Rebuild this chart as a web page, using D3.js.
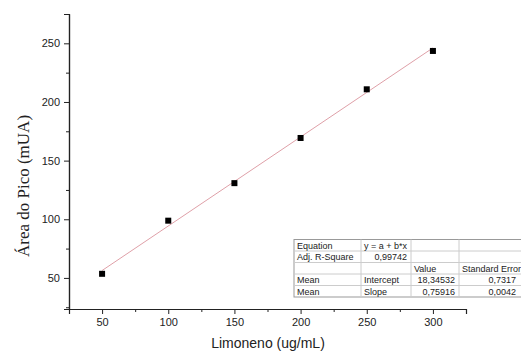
<!DOCTYPE html>
<html><head><meta charset="utf-8">
<script src="https://cdn.jsdelivr.net/npm/d3@7"></script>
<style>body{margin:0;background:#fff}svg{display:block}</style>
</head><body>
<svg id="c" width="521" height="352"></svg>
<script>
const concentrations = [50, 100, 150, 200, 250, 300];
const areas = [53.5, 98.8, 130.8, 169.3, 210.8, 243.5];
const intercept = 18.34532;
const slope = 0.75916;
const xTicks = [50, 100, 150, 200, 250, 300];
const yTicks = [50, 100, 150, 200, 250];
const xMinor = [25, 75, 125, 175, 225, 275, 325];
const yMinor = [25, 75, 125, 175, 225, 275];
const tableRows = [
  ["Equation", "y = a + b*x", "", ""],
  ["Adj. R-Square", "0,99742", "", ""],
  ["", "", "Value", "Standard Error"],
  ["Mean", "Intercept", "18,34532", "0,7317"],
  ["Mean", "Slope", "0,75916", "0,0042"]
];

const svg = d3.select("#c");
const x = d3.scaleLinear().domain([25, 325]).range([69, 466]);
const y = d3.scaleLinear().domain([23.5, 275]).range([309, 14]);

svg.append("g").attr("transform", "translate(0,309)")
  .call(d3.axisBottom(x).tickValues(xTicks).tickSize(5).tickPadding(4).tickFormat(d3.format("d")));
svg.append("g").attr("transform", "translate(0,309)")
  .call(d3.axisBottom(x).tickValues(xMinor).tickSize(3).tickSizeOuter(0).tickFormat(""));
svg.append("g").attr("transform", "translate(69,0)")
  .call(d3.axisLeft(y).tickValues(yTicks).tickSize(5).tickPadding(4).tickFormat(d3.format("d")));
svg.append("g").attr("transform", "translate(69,0)")
  .call(d3.axisLeft(y).tickValues(yMinor).tickSize(3).tickSizeOuter(0).tickFormat(""));
svg.selectAll(".domain").attr("stroke", "#222").attr("stroke-width", 1.2);
svg.selectAll(".tick line").attr("stroke", "#222");
svg.selectAll(".tick text").attr("font-family", "Arial, 'Liberation Sans', sans-serif")
  .attr("font-size", 11).attr("fill", "#222");

// fit line
svg.append("line")
  .attr("x1", x(50)).attr("y1", y(intercept + slope * 50))
  .attr("x2", x(300)).attr("y2", y(intercept + slope * 300))
  .attr("stroke", "#dfa0a8").attr("stroke-width", 1);

// points
svg.selectAll("rect.pt").data(concentrations).enter().append("rect")
  .attr("class", "pt")
  .attr("x", (d) => x(d) - 3).attr("y", (d, i) => y(areas[i]) - 3)
  .attr("width", 6).attr("height", 6).attr("fill", "#000");

// labels
svg.append("text").attr("x", 268).attr("y", 348).attr("text-anchor", "middle")
  .attr("font-family", "Arial, 'Liberation Sans', sans-serif").attr("font-size", 14)
  .attr("fill", "#222").text("Limoneno (ug/mL)");
svg.append("text").attr("transform", "translate(29,186) rotate(-90)").attr("text-anchor", "middle")
  .attr("font-family", "'Times New Roman', 'Liberation Serif', serif").attr("font-size", 17)
  .attr("fill", "#222").text("Área do Pico (mUA)");

// table
const colX = [294, 361, 411, 459, 530];
const rowY = [239.5, 251, 262.5, 274, 285.5, 297];
const tg = svg.append("g");
tg.append("rect").attr("x", colX[0]).attr("y", rowY[0]).attr("width", colX[4] - colX[0])
  .attr("height", rowY[5] - rowY[0]).attr("fill", "#fff").attr("stroke", "#999").attr("stroke-width", 1);
rowY.slice(1, 5).forEach(r => tg.append("line").attr("x1", colX[0]).attr("x2", colX[4])
  .attr("y1", r).attr("y2", r).attr("stroke", "#ccc"));
colX.slice(1, 4).forEach(c => tg.append("line").attr("x1", c).attr("x2", c)
  .attr("y1", rowY[0]).attr("y2", rowY[5]).attr("stroke", "#ccc"));
const align = [
  ["start", "start", "", ""],
  ["start", "end", "", ""],
  ["", "", "start", "start"],
  ["start", "start", "end", "end"],
  ["start", "start", "end", "end"]
];
const rightEdge = [361, 411, 459, 520];
tableRows.forEach((row, ri) => {
  row.forEach((txt, ci) => {
    if (!txt) return;
    const a = align[ri][ci];
    tg.append("text")
      .attr("x", a === "end" ? rightEdge[ci] - 4 : colX[ci] + 3)
      .attr("y", (rowY[ri] + rowY[ri + 1]) / 2 + 3.3)
      .attr("text-anchor", a)
      .attr("font-family", "Arial, 'Liberation Sans', sans-serif").attr("font-size", 9)
      .attr("fill", "#222").text(txt);
  });
});
</script>
</body></html>
